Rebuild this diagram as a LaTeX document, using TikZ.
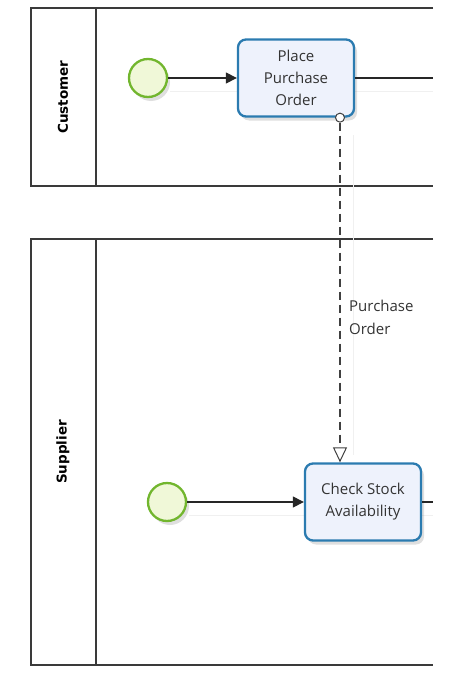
\documentclass[tikz,border=0pt]{standalone}
\usepackage{fontspec}
\setmainfont{Open Sans}
\newfontfamily\lanefont{DejaVu Sans}
\usetikzlibrary{arrows.meta,shadows,calc}
\definecolor{poolline}{HTML}{3A3A3A}
\definecolor{taskline}{HTML}{2B7BB0}
\definecolor{taskfill}{HTML}{EEF2FC}
\definecolor{evline}{HTML}{72B62E}
\definecolor{evfill}{HTML}{F0F8D8}
\definecolor{txt}{HTML}{333333}
\tikzset{
  pool/.style={draw=poolline,line width=1.3pt},
  lanelabel/.style={rotate=90,font=\lanefont\bfseries\fontsize{13.5}{16}\selectfont,text=black},
  task/.style={draw=taskline,line width=2.3pt,fill=taskfill,rounded corners=8pt,minimum width=116pt,minimum height=77pt,align=center,text=txt,font=\fontsize{15}{22}\selectfont,drop shadow={shadow xshift=3pt,shadow yshift=-4pt,opacity=0.25,fill=gray}},
  startev/.style={circle,draw=evline,line width=2.3pt,fill=evfill,minimum size=38pt,inner sep=0pt,drop shadow={shadow xshift=3pt,shadow yshift=-4pt,opacity=0.25,fill=gray}},
  flow/.style={draw=black!85,line width=1.1pt,-{Triangle[length=11pt,width=11pt]}},
  plainflow/.style={draw=black!85,line width=1.1pt},
  msgflow/.style={draw=black!75,line width=1.1pt,dash pattern=on 8pt off 5pt,-{Triangle[open,length=15pt,width=14pt,line width=1pt]}},
  msgtext/.style={align=left,text=txt,font=\fontsize{15}{23}\selectfont,anchor=north west,inner sep=0pt},
}
\begin{document}
\begin{tikzpicture}[x=1pt,y=-1pt]
\useasboundingbox (0,0) rectangle (464,677);
% Customer pool
\draw[pool] (433,8) -- (31,8) -- (31,186) -- (433,186);
\draw[pool] (96,8) -- (96,186);
\node[lanelabel] (custlabel) at (63,97) {Customer};
% Supplier pool
\draw[pool] (433,239) -- (31,239) -- (31,665) -- (433,665);
\draw[pool] (96,239) -- (96,665);
\node[lanelabel] (supplabel) at (63,452) {Supplier};
% faint guide lines
\draw[black!6,line width=1pt] (170,91) -- (433,91);
\draw[black!6,line width=1pt] (189,515) -- (433,515);
\draw[black!6,line width=1pt] (353,135) -- (353,455);
% Customer elements
\node[startev] (s1) at (148,78) {};
\node[task] (t1) at (296,78) {Place\\Purchase\\Order};
\coordinate (c1end) at (433,78);
% Supplier elements
\node[startev] (s2) at (167,502) {};
\node[task] (t2) at (363,502) {Check Stock\\Availability};
\coordinate (c2end) at (433,502);
% flows
\draw[flow] (s1) -- (t1);
\draw[plainflow] (t1) -- (c1end);
\draw[flow] (s2) -- (t2);
\draw[plainflow] (t2) -- (c2end);
% message flow
\coordinate (msrc) at (t1.south -| 340,0);
\coordinate (mdst) at (t2.north -| 340,0);
\node[circle,draw=black!75,fill=white,line width=1pt,inner sep=0pt,minimum size=9pt] (mcirc) at (msrc) {};
\draw[msgflow] (mcirc.south) -- (mdst);
\node[msgtext] (mlabel) at (349,300) {Purchase\\Order};
\end{tikzpicture}
\end{document}
